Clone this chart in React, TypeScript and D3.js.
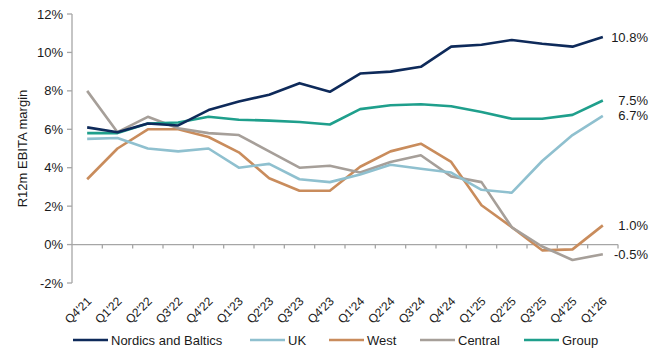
import React from "react";
import * as d3 from "d3";

const quarters = ["Q4'21","Q1'22","Q2'22","Q3'22","Q4'22","Q1'23","Q2'23","Q3'23","Q4'23","Q1'24","Q2'24","Q3'24","Q4'24","Q1'25","Q2'25","Q3'25","Q4'25","Q1'26"];
const nordics = [6.1,5.85,6.3,6.2,7.0,7.45,7.8,8.4,7.95,8.9,9.0,9.25,10.3,10.4,10.65,10.45,10.3,10.8];
const uk = [5.5,5.55,5.0,4.85,5.0,4.0,4.2,3.4,3.25,3.65,4.15,3.95,3.75,2.85,2.7,4.35,5.7,6.7];
const west = [3.4,5.0,6.0,6.0,5.6,4.8,3.45,2.8,2.8,4.05,4.85,5.25,4.3,2.05,0.9,-0.3,-0.25,1.0];
const central = [8.0,5.85,6.65,6.05,5.8,5.7,4.85,4.0,4.1,3.75,4.3,4.65,3.55,3.25,0.9,-0.1,-0.8,-0.5];
const group = [5.8,5.8,6.3,6.35,6.65,6.5,6.45,6.38,6.25,7.05,7.25,7.3,7.2,6.9,6.55,6.55,6.75,7.5];
const yTicks = [-2,0,2,4,6,8,10,12];
const endLabels = ["10.8%","6.7%","1.0%","-0.5%","7.5%"];

const series = [
  { name: "Nordics and Baltics", values: nordics, color: "#0e2a5a" },
  { name: "UK", values: uk, color: "#8fc0cf" },
  { name: "West", values: west, color: "#c98c5c" },
  { name: "Central", values: central, color: "#a69f99" },
  { name: "Group", values: group, color: "#1f9f8c" },
];
const drawOrder = [2, 3, 1, 4, 0];

export default function App() {
  const W = 667, H = 352;
  const left = 72, right = 618, top = 14, bottom = 283;
  const x = d3.scaleBand<string>().domain(quarters).range([left, right]);
  const cx = (q: string) => (x(q) as number) + x.bandwidth() / 2;
  const y = d3.scaleLinear().domain([-2, 12]).range([bottom, top]);
  const line = d3.line<number>().x((_, i) => cx(quarters[i])).y((d) => y(d));
  const axisColor = "#a6a6a6";
  const font = "'Liberation Sans', Arial, sans-serif";
  const legendX = [73, 250, 329, 420, 524];

  return (
    <svg width={W} height={H} style={{ position: "absolute", left: 0, top: 0 }} fontFamily={font}>
      <rect width={W} height={H} fill="#fff" />
      {/* y axis */}
      <line x1={left} x2={left} y1={y(12)} y2={y(-2)} stroke={axisColor} strokeWidth={1.3} />
      {yTicks.map((t) => (
        <g key={t}>
          <line x1={left - 5} x2={left} y1={y(t)} y2={y(t)} stroke={axisColor} strokeWidth={1.3} />
          <text x={left - 9} y={y(t)} dy="0.35em" textAnchor="end" fontSize={13} fill="#1a1a1a">{t}%</text>
        </g>
      ))}
      <text transform={`translate(22,${(y(12) + y(-2)) / 2}) rotate(-90)`} textAnchor="middle" dy="0.35em" fontSize={13} fill="#1a1a1a">R12m EBITA margin</text>
      {/* x axis at 0 */}
      <line x1={left} x2={right} y1={y(0)} y2={y(0)} stroke={axisColor} strokeWidth={1.3} />
      {quarters.map((q) => (
        <line key={"t" + q} x1={(x(q) as number) + x.bandwidth()} x2={(x(q) as number) + x.bandwidth()} y1={y(0)} y2={y(0) + 4} stroke={axisColor} strokeWidth={1.3} />
      ))}
      {quarters.map((q) => (
        <text key={q} transform={`translate(${cx(q) - 1},${bottom + 13}) rotate(-45)`} textAnchor="end" dy="0.7em" fontSize={12} fill="#1a1a1a">{q}</text>
      ))}
      {/* lines */}
      {drawOrder.map((k) => (
        <path key={series[k].name} d={line(series[k].values) || ""} fill="none" stroke={series[k].color} strokeWidth={2.6} strokeLinejoin="round" />
      ))}
      {/* end labels */}
      {series.map((s, k) => (
        <text key={"e" + s.name} x={648} y={y(s.values[s.values.length - 1])} dy="0.35em" textAnchor="end" fontSize={13} fill="#1a1a1a">{endLabels[k]}</text>
      ))}
      {/* legend */}
      {series.map((s, k) => (
        <g key={"l" + s.name}>
          <line x1={legendX[k]} x2={legendX[k] + 35} y1={340} y2={340} stroke={s.color} strokeWidth={2.6} />
          <text x={legendX[k] + 38} y={340} dy="0.35em" fontSize={13} fill="#1a1a1a">{s.name}</text>
        </g>
      ))}
    </svg>
  );
}
